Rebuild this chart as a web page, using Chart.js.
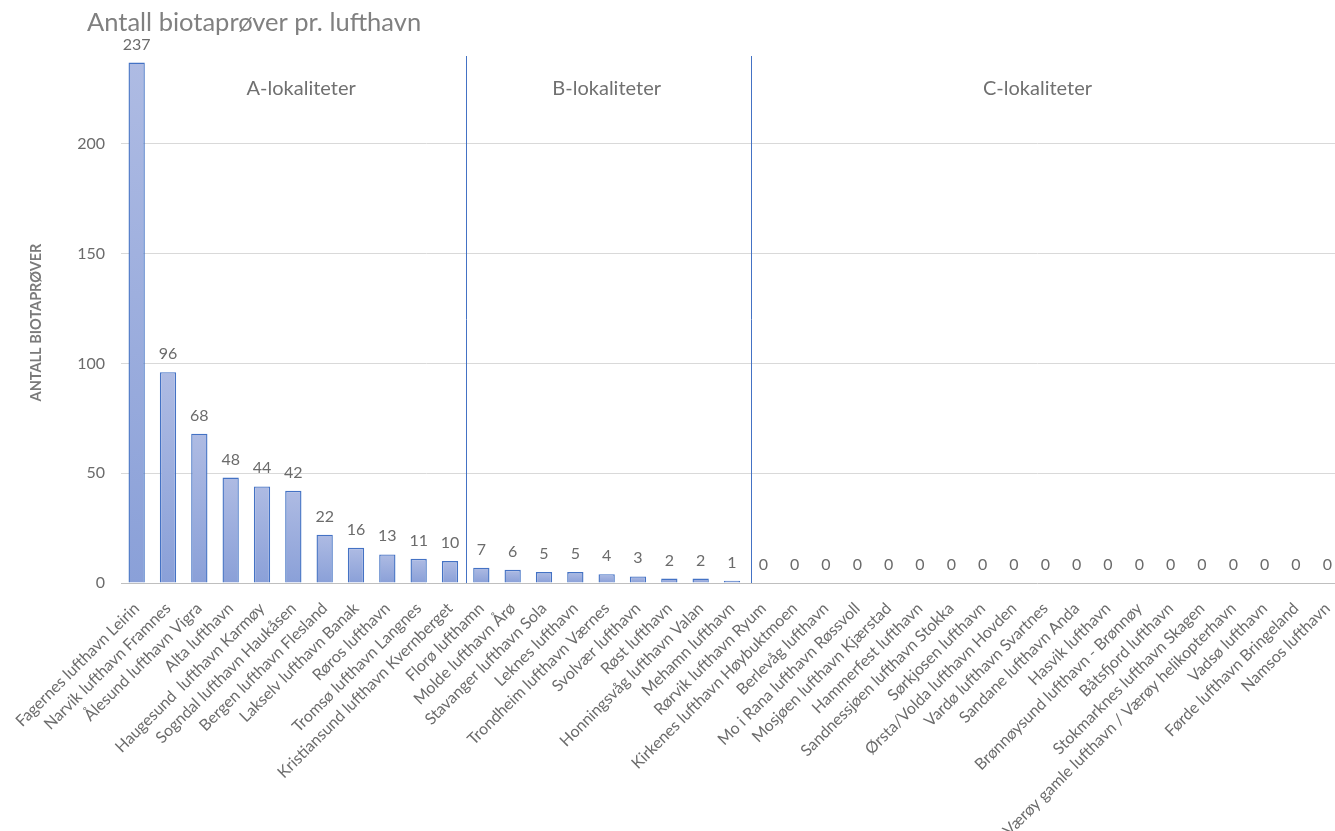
<!DOCTYPE html>
<html><head><meta charset="utf-8">
<script src="https://cdn.jsdelivr.net/npm/chart.js@4/dist/chart.umd.min.js"></script>
<style>html,body{margin:0;padding:0;overflow:hidden;background:#fff}#wrap{width:1350px;height:831px;position:relative}</style>
</head><body><div id="wrap"><canvas id="c" width="1350" height="831"></canvas></div>
<script>
const chartTitle = 'Antall biotaprøver pr. lufthavn';
const yAxisTitle = 'ANTALL BIOTAPRØVER';
const categories = [
  'Fagernes lufthavn Leirin','Narvik lufthavn Framnes','Ålesund lufthavn Vigra','Alta lufthavn',
  'Haugesund  lufthavn Karmøy','Sogndal lufthavn Haukåsen','Bergen lufthavn Flesland','Lakselv lufthavn Banak',
  'Røros lufthavn','Tromsø lufthavn Langnes','Kristiansund lufthavn Kvernberget',
  'Florø lufthamn','Molde lufthavn Årø','Stavanger lufthavn Sola','Leknes lufthavn','Trondheim lufthavn Værnes',
  'Svolvær lufthavn','Røst lufthavn','Honningsvåg lufthavn Valan','Mehamn lufthavn',
  'Rørvik lufthavn Ryum','Kirkenes lufthavn Høybuktmoen','Berlevåg lufthavn','Mo i Rana lufthavn Røssvoll',
  'Mosjøen lufthavn Kjærstad','Hammerfest lufthavn','Sandnessjøen lufthavn Stokka','Sørkjosen lufthavn',
  'Ørsta/Volda lufthavn Hovden','Vardø lufthavn Svartnes','Sandane lufthavn Anda','Hasvik lufthavn',
  'Brønnøysund lufthavn - Brønnøy','Båtsfjord lufthavn','Stokmarknes lufthavn Skagen',
  'Værøy gamle lufthavn / Værøy helikopterhavn','Vadsø lufthavn','Førde lufthavn Bringeland','Namsos lufthavn'
];
const values = [237,96,68,48,44,42,22,16,13,11,10, 7,6,5,5,4,3,2,2,1, 0,0,0,0,0,0,0,0,0,0,0,0,0,0,0,0,0,0,0];
const sectionNames = ['A-lokaliteter','B-lokaliteter','C-lokaliteter'];
const sectionCounts = [11, 9, 19];
const yTickValues = [0,50,100,150,200];
const yMax = 240;

const FONT = 'Lato, "Open Sans", sans-serif';
const GRAY = '#6b6b6b';

const decor = {
  id: 'decor',
  afterDatasetsDraw(chart) {
    const ctx = chart.ctx, xs = chart.scales.x, ys = chart.scales.y, area = chart.chartArea;
    const zeroY = ys.getPixelForValue(0);
    ctx.save();
    let idx = 0;
    const bounds = [];
    sectionCounts.forEach(n => { bounds.push([idx, idx + n - 1]); idx += n; });
    // separators between sections
    ctx.strokeStyle = '#4472C4';
    ctx.lineWidth = 1;
    for (let k = 1; k < bounds.length; k++) {
      const b = bounds[k][0];
      const px = Math.round((xs.getPixelForValue(b - 1) + xs.getPixelForValue(b)) / 2 + (k === 2 ? 3 : 0)) + 0.5;
      ctx.beginPath(); ctx.moveTo(px, area.top); ctx.lineTo(px, zeroY); ctx.stroke();
    }
    // section labels
    ctx.fillStyle = '#707070';
    ctx.font = '20px ' + FONT;
    ctx.textAlign = 'center'; ctx.textBaseline = 'middle';
    bounds.forEach(([s, e], k) => {
      const left = k === 0 ? xs.getPixelForValue(s) : (xs.getPixelForValue(s - 1) + xs.getPixelForValue(s)) / 2;
      const right = k === bounds.length - 1 ? xs.getPixelForValue(e) : (xs.getPixelForValue(e) + xs.getPixelForValue(e + 1)) / 2;
      ctx.fillText(sectionNames[k], (left + right) / 2, area.top + 33);
    });
    // data labels
    const meta = chart.getDatasetMeta(0);
    ctx.fillStyle = GRAY;
    ctx.font = '16px ' + FONT;
    ctx.textBaseline = 'alphabetic';
    meta.data.forEach((el, i) => {
      ctx.fillText(String(values[i]), el.x, el.y - 13);
    });
    // title
    ctx.fillStyle = '#808080';
    ctx.font = '25.5px ' + FONT;
    ctx.textAlign = 'left'; ctx.textBaseline = 'middle';
    ctx.fillText(chartTitle, 87, 23);
    // y axis title
    ctx.translate(36, (area.top + zeroY) / 2 + 3);
    ctx.rotate(-Math.PI / 2);
    ctx.fillStyle = '#7a7a7a';
    ctx.font = 'bold 14.5px ' + FONT;
    ctx.textAlign = 'center';
    ctx.fillText(yAxisTitle, 0, 0);
    ctx.restore();
  }
};

function barFill(c) {
  const ys = c.chart.scales.y;
  if (!ys || c.raw === undefined) return '#9aacdc';
  const top = ys.getPixelForValue(c.raw), base = ys.getPixelForValue(0);
  if (!isFinite(top) || base - top < 1) return '#8da3d9';
  const g = c.chart.ctx.createLinearGradient(0, top, 0, base);
  g.addColorStop(0, '#aebbe3');
  g.addColorStop(1, '#8aa0d8');
  return g;
}

new Chart(document.getElementById('c'), {
  type: 'bar',
  data: {
    labels: categories,
    datasets: [{
      data: values,
      backgroundColor: barFill,
      borderColor: '#4472C4',
      borderWidth: 1.4,
      categoryPercentage: 1,
      barPercentage: 0.52
    }]
  },
  options: {
    responsive: false,
    animation: false,
    devicePixelRatio: 1,
    layout: { padding: { top: 56, right: 7, left: 0, bottom: 0 } },
    plugins: { legend: { display: false }, tooltip: { enabled: false }, title: { display: false } },
    scales: {
      x: {
        grid: { display: false },
        border: { display: false },
        ticks: {
          autoSkip: false, maxRotation: 45, minRotation: 45,
          color: GRAY, font: { family: FONT, size: 16 }, padding: 8
        },
        afterFit(s) { s.height = 248; }
      },
      y: {
        min: 0, max: yMax,
        afterBuildTicks(s) { s.ticks = yTickValues.map(v => ({ value: v })); },
        grid: {
          color: c => (c.tick && c.tick.value === 0) ? '#bfbfbf' : '#d9d9d9',
          lineWidth: 1, drawTicks: false
        },
        border: { display: false },
        ticks: { color: GRAY, font: { family: FONT, size: 16 }, padding: 16 },
        afterFit(s) { s.width = 121; }
      }
    }
  },
  plugins: [decor]
});
</script></body></html>
